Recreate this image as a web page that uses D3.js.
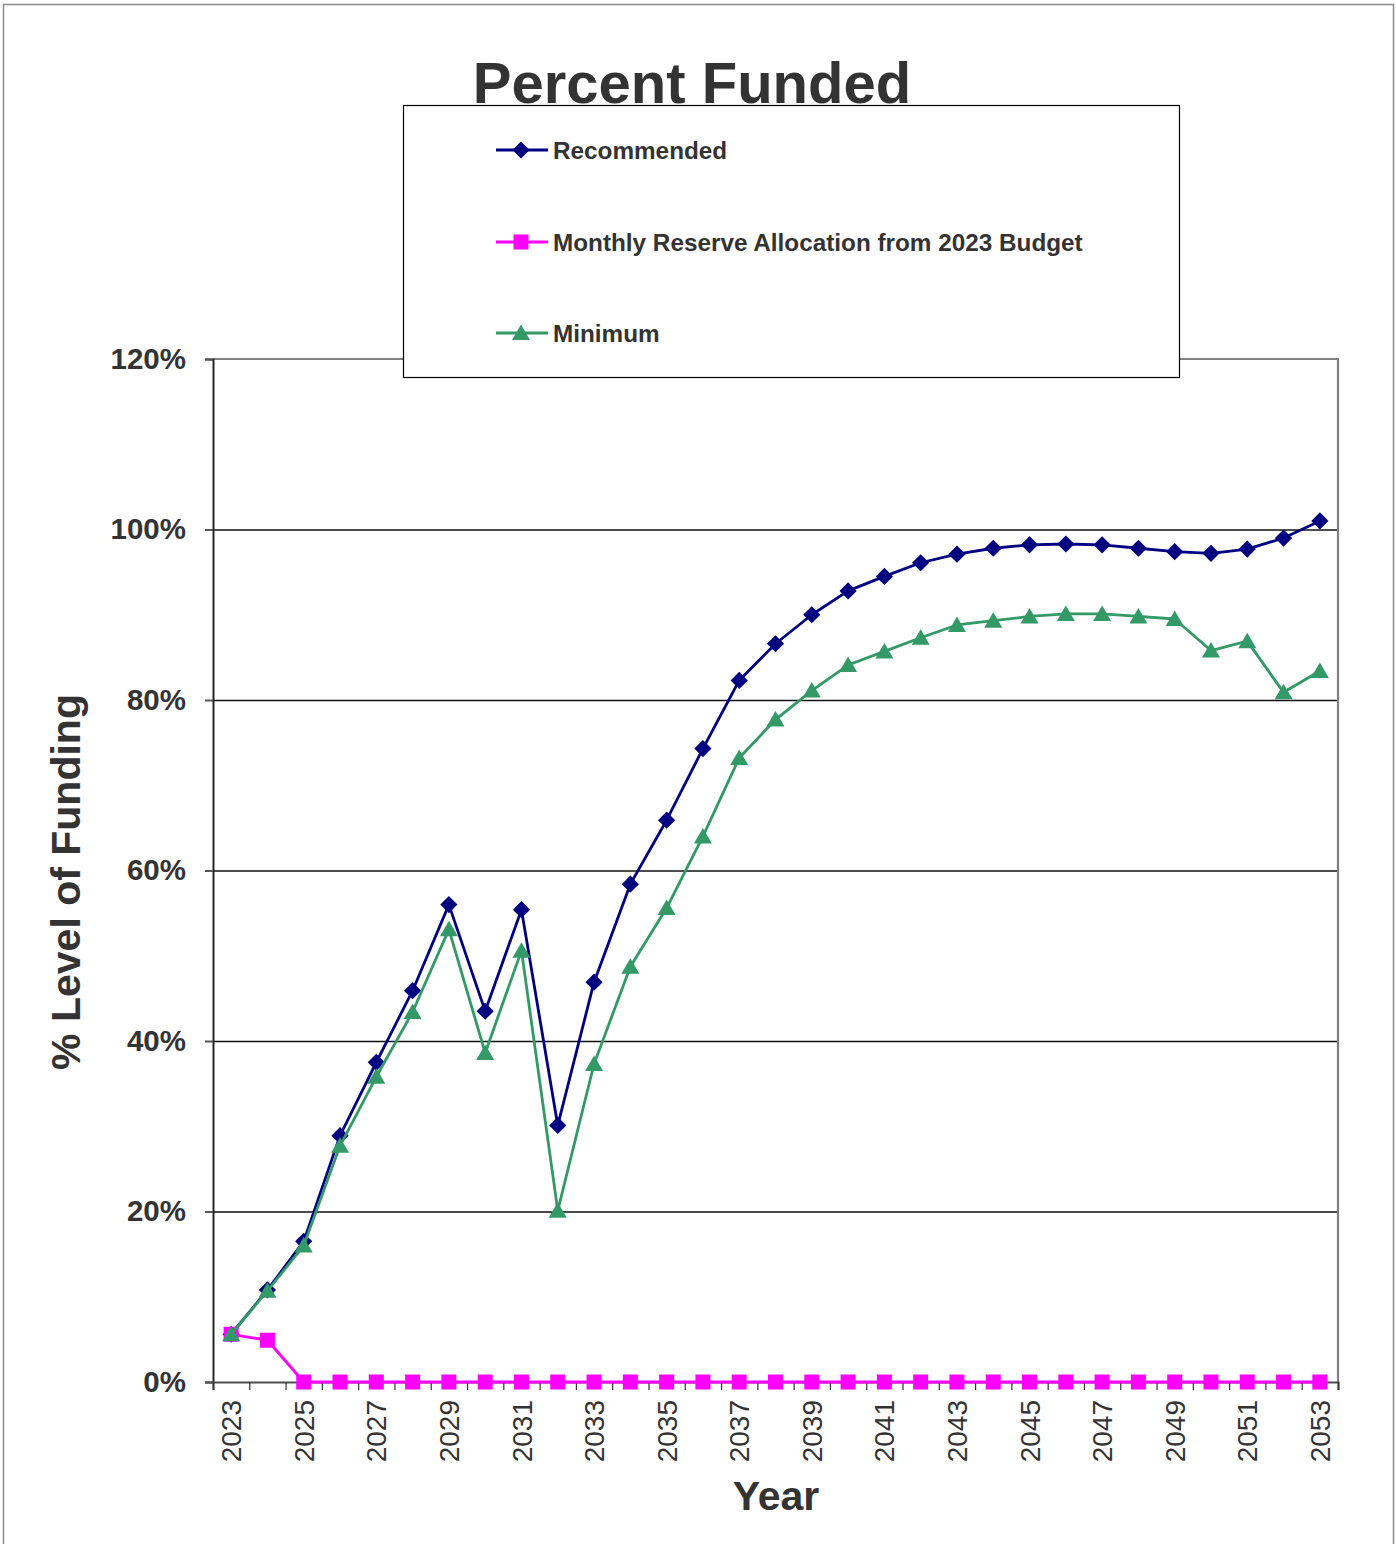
<!DOCTYPE html>
<html>
<head>
<meta charset="utf-8">
<script src="https://cdn.jsdelivr.net/npm/d3@7"></script>
<style>
  html, body { margin: 0; padding: 0; background: #fff; }
  svg { display: block; font-family: "Liberation Sans", Arial, sans-serif; }
</style>
</head>
<body>
<svg id="chart" width="1396" height="1544"></svg>
<script>
// Years on the horizontal axis
const years = d3.range(2023, 2054);

// Percent funded per year (%)
const recommended = [5.6, 10.8, 16.5, 28.9, 37.5, 45.9, 56.0, 43.5, 55.4, 30.1,
  46.9, 58.4, 65.9, 74.3, 82.3, 86.6, 90.0, 92.8, 94.5, 96.1,
  97.1, 97.8, 98.2, 98.3, 98.2, 97.8, 97.4, 97.2, 97.7, 99.0, 101.0];

const monthlyAllocation = [5.6, 4.9, 0, 0, 0, 0, 0, 0, 0, 0,
  0, 0, 0, 0, 0, 0, 0, 0, 0, 0,
  0, 0, 0, 0, 0, 0, 0, 0, 0, 0, 0];

const minimum = [5.6, 10.7, 16.0, 27.7, 35.8, 43.4, 53.1, 38.6, 50.6, 20.1,
  37.3, 48.7, 55.6, 64.0, 73.2, 77.7, 81.1, 84.1, 85.7, 87.3,
  88.8, 89.3, 89.8, 90.1, 90.1, 89.8, 89.5, 85.8, 86.9, 80.9, 83.4];

const yTicks = [0, 20, 40, 60, 80, 100, 120];
const xLabelYears = years.filter(y => (y - 2023) % 2 === 0);

const seriesNames = ["Recommended", "Monthly Reserve Allocation from 2023 Budget", "Minimum"];
const seriesColors = ["#000080", "#FF00FF", "#339966"];
const seriesShapes = ["diamond", "square", "triangle"];

const svg = d3.select("#chart");
const textColor = "#333333";

// Outer chart frame
svg.append("rect")
  .attr("x", 3.5).attr("y", 4.5)
  .attr("width", 1390).attr("height", 1600)
  .attr("fill", "#fff").attr("stroke", "#8c8c8c").attr("stroke-width", 1.5);

const plot = { left: 213, right: 1338, top: 359, bottom: 1382 };

const x = d3.scaleBand().domain(years).range([plot.left, plot.right]).padding(0);
const cx = d => x(d) + x.bandwidth() / 2;
const y = d3.scaleLinear().domain([0, 120]).range([plot.bottom, plot.top]);

// Horizontal gridlines
svg.append("g")
  .selectAll("line")
  .data(yTicks.filter(t => t > 0 && t < 120))
  .join("line")
  .attr("x1", plot.left).attr("x2", plot.right)
  .attr("y1", d => y(d) + 0.5).attr("y2", d => y(d) + 0.5)
  .attr("stroke", "#111").attr("stroke-width", 1.4);

// Top and right plot border
svg.append("path")
  .attr("d", `M${plot.left},${plot.top}H${plot.right}V${plot.bottom}`)
  .attr("fill", "none").attr("stroke", "#808080").attr("stroke-width", 2.2);

// Y axis
const yAxis = d3.axisLeft(y)
  .tickValues(yTicks)
  .tickFormat(d => d + "%")
  .tickSize(8)
  .tickPadding(19);
const gy = svg.append("g").attr("transform", `translate(${plot.left},0)`).call(yAxis);
gy.select(".domain").attr("stroke", "#262626").attr("stroke-width", 2);
gy.selectAll(".tick line").attr("stroke", "#555").attr("stroke-width", 2);
gy.selectAll(".tick text")
  .attr("fill", textColor)
  .style("font-size", "29.5px").style("font-weight", "bold")
  .style("font-family", "'Liberation Sans', Arial, sans-serif");

// X axis: tick marks at category boundaries
const xb = d3.scaleLinear().domain([0, years.length]).range([plot.left, plot.right]);
const xAxis = d3.axisBottom(xb)
  .tickValues(d3.range(0, years.length + 1))
  .tickFormat("")
  .tickSize(8);
const gx = svg.append("g").attr("transform", `translate(0,${plot.bottom})`).call(xAxis);
gx.select(".domain").attr("stroke", "#4d4d4d").attr("stroke-width", 2.2);
gx.selectAll(".tick line").attr("stroke", "#333").attr("stroke-width", 1.2);

// Rotated year labels
svg.append("g")
  .selectAll("text")
  .data(xLabelYears)
  .join("text")
  .attr("transform", d => `translate(${cx(d)},1400) rotate(-90)`)
  .attr("text-anchor", "end")
  .attr("dy", "0.36em")
  .attr("fill", textColor)
  .style("font-size", "28px")
  .text(d => d);

// Marker paths
function markerPath(shape) {
  if (shape === "diamond") return "M0,-8.6L8.6,0L0,8.6L-8.6,0Z";
  if (shape === "square") return "M-7.5,-7.5H7.5V7.5H-7.5Z";
  return "M0,-8.5L9,7H-9Z";
}

const line = d3.line().x((d, i) => cx(years[i])).y(d => y(d));
const allSeries = [recommended, monthlyAllocation, minimum];

allSeries.forEach((vals, k) => {
  const g = svg.append("g");
  g.append("path")
    .datum(vals)
    .attr("d", line)
    .attr("fill", "none")
    .attr("stroke", seriesColors[k])
    .attr("stroke-width", 2.8)
    .attr("stroke-linejoin", "round");
  g.selectAll("path.mk")
    .data(vals)
    .join("path")
    .attr("class", "mk")
    .attr("transform", (d, i) => `translate(${cx(years[i])},${y(d)})`)
    .attr("d", markerPath(seriesShapes[k]))
    .attr("fill", seriesColors[k]);
});

// Title
svg.append("text")
  .attr("x", 692).attr("y", 103)
  .attr("text-anchor", "middle")
  .attr("fill", textColor)
  .style("font-size", "58px").style("font-weight", "bold")
  .text("Percent Funded");

// Legend box
const legend = svg.append("g");
legend.append("rect")
  .attr("x", 403.5).attr("y", 105.5)
  .attr("width", 776).attr("height", 272)
  .attr("fill", "#fff").attr("stroke", "#000").attr("stroke-width", 1.2);

const legendY = [150, 242, 333];
seriesNames.forEach((name, k) => {
  const ly = legendY[k];
  legend.append("line")
    .attr("x1", 496).attr("x2", 548)
    .attr("y1", ly).attr("y2", ly)
    .attr("stroke", seriesColors[k]).attr("stroke-width", 2.8);
  legend.append("path")
    .attr("transform", `translate(521,${ly})`)
    .attr("d", markerPath(seriesShapes[k]))
    .attr("fill", seriesColors[k]);
  legend.append("text")
    .attr("x", 553).attr("y", ly)
    .attr("dy", "0.35em")
    .attr("fill", textColor)
    .style("font-size", "24.3px").style("font-weight", "bold")
    .text(name);
});

// Axis titles
svg.append("text")
  .attr("transform", "translate(80,882) rotate(-90)")
  .attr("text-anchor", "middle")
  .attr("fill", textColor)
  .style("font-size", "41px").style("font-weight", "bold")
  .text("% Level of Funding");

svg.append("text")
  .attr("x", 776).attr("y", 1510)
  .attr("text-anchor", "middle")
  .attr("fill", textColor)
  .style("font-size", "41px").style("font-weight", "bold")
  .text("Year");
</script>
</body>
</html>
